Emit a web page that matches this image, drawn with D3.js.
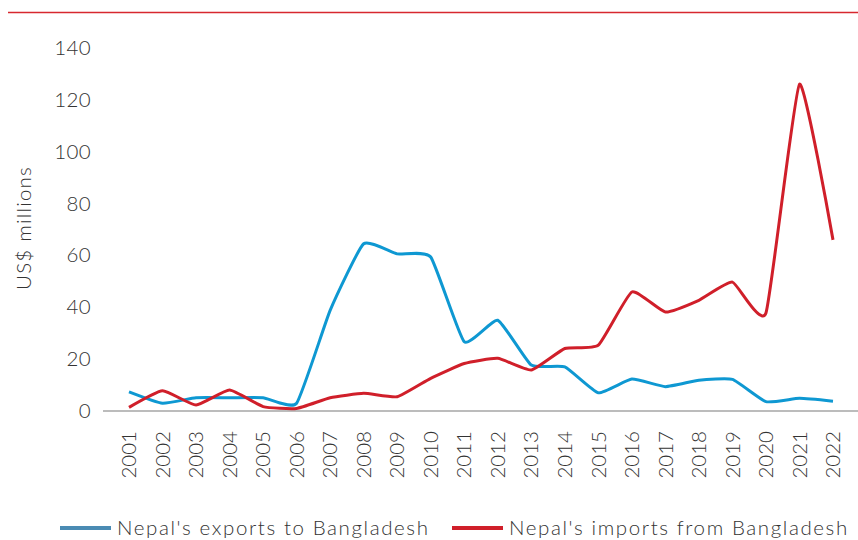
<!DOCTYPE html>
<html>
<head>
<meta charset="utf-8">
<script src="https://cdn.jsdelivr.net/npm/d3@7"></script>
<style>
  body { margin: 0; background: #fff; }
  svg { display: block; font-family: "Century Gothic", Lato, sans-serif; font-weight: 300; }
</style>
</head>
<body>
<svg id="chart"></svg>
<script>
const years = d3.range(2001, 2023).map(String);
const exportsToBd = [7.4, 3.0, 5.1, 5.1, 5.1, 3.0, 38.8, 64.5, 60.6, 59.4, 26.7, 35.0,
    17.7, 17.0, 7.0, 12.3, 9.4, 11.9, 12.2, 3.6, 4.9, 3.8];
const importsFromBd = [1.4, 7.8, 2.3, 8.1, 1.7, 1.0, 5.1, 6.8, 5.5, 12.6, 18.3, 20.3,
    15.8, 24.1, 25.4, 45.9, 38.2, 42.7, 49.7, 37.8, 126, 66.0];
const yTicks = [0, 20, 40, 60, 80, 100, 120, 140];
const seriesNames = ["Nepal's exports to Bangladesh", "Nepal's imports from Bangladesh"];

const width = 858, height = 540;
const blue = '#0e98d2', red = '#d01f2a';
const textColor = '#333';
const fontSize = 20.5;

const svg = d3.select('#chart')
    .attr('width', width)
    .attr('height', height)
    .attr('viewBox', [0, 0, width, height]);

// thin red rule along the top
svg.append('line')
    .attr('x1', 8).attr('x2', width)
    .attr('y1', 12.5).attr('y2', 12.5)
    .attr('stroke', '#d7282f')
    .attr('stroke-width', 1.5);

const x = d3.scalePoint()
    .domain(years)
    .range([129, 833]);

const y = d3.scaleLinear()
    .domain([0, 140])
    .range([411, 48]);

// y axis labels
svg.append('g')
    .attr('transform', 'translate(91,0)')
    .call(d3.axisLeft(y).tickValues(yTicks).tickSize(0).tickPadding(0))
    .attr('font-family', null)
    .attr('font-size', fontSize)
    .call(g => g.select('.domain').remove())
    .call(g => g.selectAll('text')
        .attr('fill', textColor)
        .attr('letter-spacing', 0.4));

svg.append('text')
    .attr('transform', 'translate(31,228) rotate(-90)')
    .attr('text-anchor', 'middle')
    .attr('font-size', fontSize)
    .attr('letter-spacing', 1.2)
    .attr('fill', textColor)
    .text('US$ millions');

// x axis baseline + rotated year labels
svg.append('line')
    .attr('x1', 103).attr('x2', width)
    .attr('y1', y(0)).attr('y2', y(0))
    .attr('stroke', '#a6a6a6')
    .attr('stroke-width', 1.5);

svg.append('g')
    .selectAll('text')
    .data(years)
    .join('text')
        .attr('transform', d => `translate(${x(d)},431) rotate(-90)`)
        .attr('text-anchor', 'end')
        .attr('dy', '0.35em')
        .attr('font-size', fontSize)
        .attr('fill', textColor)
        .text(d => d);

const line = d3.line()
    .x((d, i) => x(years[i]))
    .y(d => y(d))
    .curve(d3.curveCardinal.tension(0.55));

svg.append('path')
    .datum(exportsToBd)
    .attr('fill', 'none')
    .attr('stroke', blue)
    .attr('stroke-width', 3)
    .attr('stroke-linejoin', 'round')
    .attr('d', line);

svg.append('path')
    .datum(importsFromBd)
    .attr('fill', 'none')
    .attr('stroke', red)
    .attr('stroke-width', 3)
    .attr('stroke-linejoin', 'round')
    .attr('d', line);

// legend
const legend = svg.append('g')
    .selectAll('g')
    .data([
        { name: seriesNames[0], color: '#4a8bb3', x: 60 },
        { name: seriesNames[1], color: red, x: 452 },
    ])
    .join('g')
        .attr('transform', d => `translate(${d.x},528)`);

legend.append('line')
    .attr('x1', 0).attr('x2', 51)
    .attr('stroke', d => d.color)
    .attr('stroke-width', 4);

legend.append('text')
    .attr('x', 57)
    .attr('dy', '0.35em')
    .attr('font-size', fontSize)
    .attr('letter-spacing', 1.6)
    .attr('fill', textColor)
    .text(d => d.name);
</script>
</body>
</html>
